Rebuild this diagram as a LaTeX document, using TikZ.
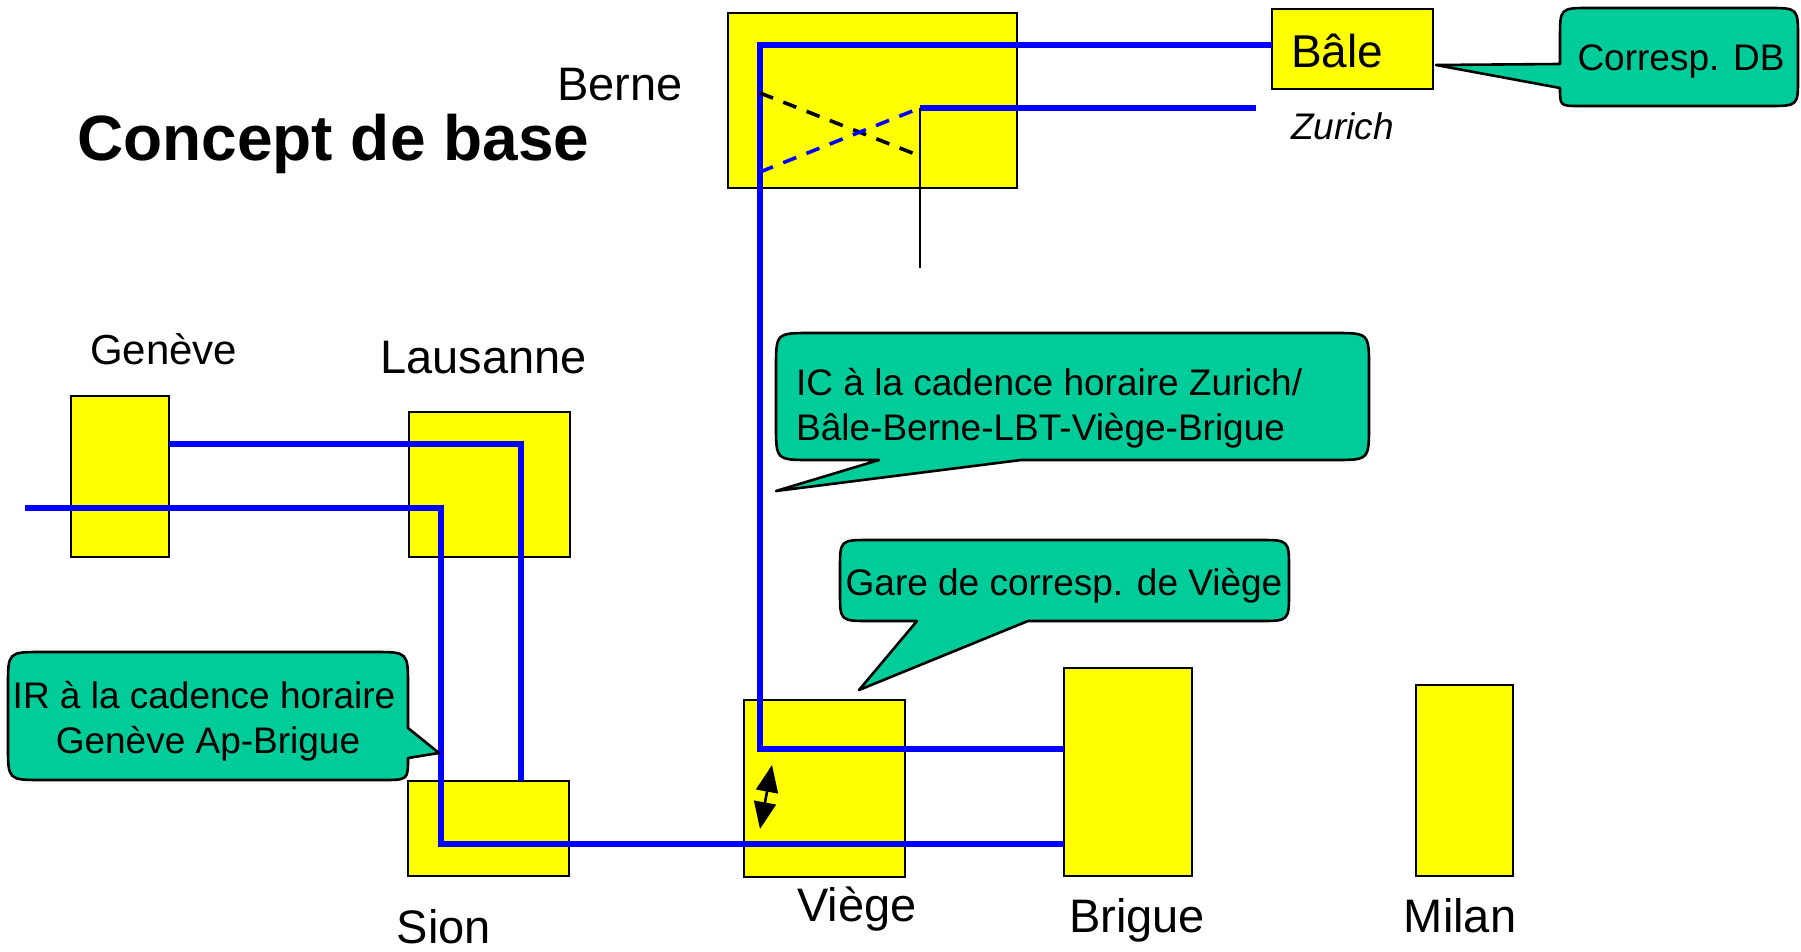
\documentclass[tikz,border=0pt]{standalone}
\usepackage{fontspec}
\setmainfont{Liberation Sans}
\usetikzlibrary{arrows.meta}
\definecolor{stnyellow}{RGB}{255,255,0}
\definecolor{callgreen}{RGB}{0,204,153}
\definecolor{railblue}{RGB}{0,0,255}
\begin{document}
\begin{tikzpicture}[x=1pt,y=-1pt,
  stn/.style={draw=black, line width=2.6pt, fill=stnyellow, inner sep=0pt, outer sep=0pt},
  rail/.style={draw=railblue, line width=5.2pt},
  bubble/.style={draw=black, line width=2.6pt, fill=callgreen, line join=round},
  lbl/.style={inner sep=0pt, anchor=base, font=\fontsize{47}{56}\selectfont},
  ctext/.style={inner sep=0pt, font=\fontsize{37}{44}\selectfont},
]
\useasboundingbox (0,0) rectangle (1801,952);

% stations
\node[stn, minimum width=289pt, minimum height=175pt] (berne) at (872.5,100.5) {};
\node[stn, minimum width=161pt, minimum height=80pt] (bale) at (1352.5,49) {};
\node[stn, minimum width=98pt, minimum height=161pt] (geneve) at (120,476.5) {};
\node[stn, minimum width=161pt, minimum height=145pt] (lausanne) at (489.5,484.5) {};
\node[stn, minimum width=161pt, minimum height=95pt] (sion) at (488.5,828.5) {};
\node[stn, minimum width=161pt, minimum height=177pt] (viege) at (824.5,788.5) {};
\node[stn, minimum width=128pt, minimum height=208pt] (brigue) at (1128,772) {};
\node[stn, minimum width=97pt, minimum height=191pt] (milan) at (1464.5,780.5) {};

% rail coordinates
\coordinate (irstart) at (25,508);
\coordinate (irbend1) at (441,508);
\coordinate (irbend2) at (441,844);
\coordinate (gestart) at (169,444);
\coordinate (gebend) at (521,444);
\coordinate (icbend1) at (760,749);
\coordinate (icbend2) at (760,45);
\coordinate (zustart) at (920,108);
\coordinate (zuend) at (1256,108);
\coordinate (xa) at (760,93);
\coordinate (xb) at (920,156);
\coordinate (xc) at (760,172);
\coordinate (thinend) at (920,268);

% rails
\draw[rail] (irstart) -- (irbend1) -- (irbend2) -- (irbend2 -| brigue.west);
\draw[rail] (gestart) -- (gebend) -- (gebend |- sion.north);
\draw[rail] (icbend1 -| brigue.west) -- (icbend1) -- (icbend2) -- (icbend2 -| bale.west);
\draw[rail] (zustart) -- (zuend);
\draw[black, line width=3.6pt, dash pattern=on 14pt off 11pt] (xa) -- (xb);
\draw[railblue, line width=3.6pt, dash pattern=on 14pt off 11pt] (xc) -- (zustart);
\draw[black, line width=2pt] (zustart) -- (thinend);

% exchange arrow at Viege
\coordinate (va) at (772,765);
\coordinate (vb) at (760,829);
\draw[line width=2.6pt, {Triangle[length=27pt,width=22pt]}-{Triangle[length=27pt,width=22pt]}] (va) -- (vb);

% callouts
\draw[bubble] (879,460) -- (776,491) -- (1021,460) -- (1334,460) .. controls (1369,460) .. (1369,425)
  -- (1369,368) .. controls (1369,333) .. (1334,333) -- (811,333) .. controls (776,333) .. (776,368)
  -- (776,425) .. controls (776,460) .. (811,460) -- cycle;
\draw[bubble] (917,621) -- (859,690) -- (1028,621) -- (1259,621) .. controls (1289,621) .. (1289,592)
  -- (1289,569) .. controls (1289,540) .. (1259,540) -- (870,540) .. controls (840,540) .. (840,569)
  -- (840,592) .. controls (840,621) .. (870,621) -- cycle;
\draw[bubble] (408,728) -- (439,753) -- (408,758) .. controls (408,780) .. (382,780) -- (42,780)
  .. controls (8,780) .. (8,746) -- (8,686) .. controls (8,652) .. (42,652) -- (374,652)
  .. controls (408,652) .. (408,686) -- cycle;
\draw[bubble] (1560,64) -- (1436,65) -- (1560,88) .. controls (1560,106) .. (1580,106) -- (1768,106)
  .. controls (1798,106) .. (1798,78) -- (1798,38) .. controls (1798,8) .. (1768,8) -- (1590,8)
  .. controls (1560,8) .. (1560,38) -- cycle;

% texts
\node[inner sep=0pt, anchor=base west, font=\fontsize{64}{76}\selectfont\bfseries] (title) at (77,161) {Concept de base};
\node[lbl, anchor=base west] (bernet) at (557,101) {Berne};
\node[inner sep=0pt, anchor=base west, font=\fontsize{46}{55}\selectfont] (balet) at (1291,68) {Bâle};
\node[ctext, anchor=base west, font=\fontsize{37}{44}\selectfont\itshape] (zuricht) at (1291,140) {Zurich};
\node[ctext, anchor=base] (corrt) at (1681,71) {Corresp. DB};
\node[inner sep=0pt, anchor=base west, font=\fontsize{42}{50}\selectfont] (genevet) at (90,364) {Genève};
\node[lbl, anchor=base west] (lausannet) at (380,373) {Lausanne};
\node[ctext, anchor=base west, align=left] (ict1) at (796,395) {IC à la cadence horaire Zurich/};
\node[ctext, anchor=base west, align=left] (ict2) at (796,440) {Bâle-Berne-LBT-Viège-Brigue};
\node[ctext, anchor=base] (garet) at (1064,595) {Gare de corresp. de Viège};
\node[ctext, anchor=base] (irt1) at (204,708) {IR à la cadence horaire};
\node[ctext, anchor=base] (irt2) at (208,753) {Genève Ap-Brigue};
\node[lbl] (siont) at (444,943) {Sion};
\node[lbl] (vieget) at (857,921) {Viège};
\node[lbl] (briguet) at (1137,932) {Brigue};
\node[lbl] (milant) at (1460,932) {Milan};
\end{tikzpicture}
\end{document}
